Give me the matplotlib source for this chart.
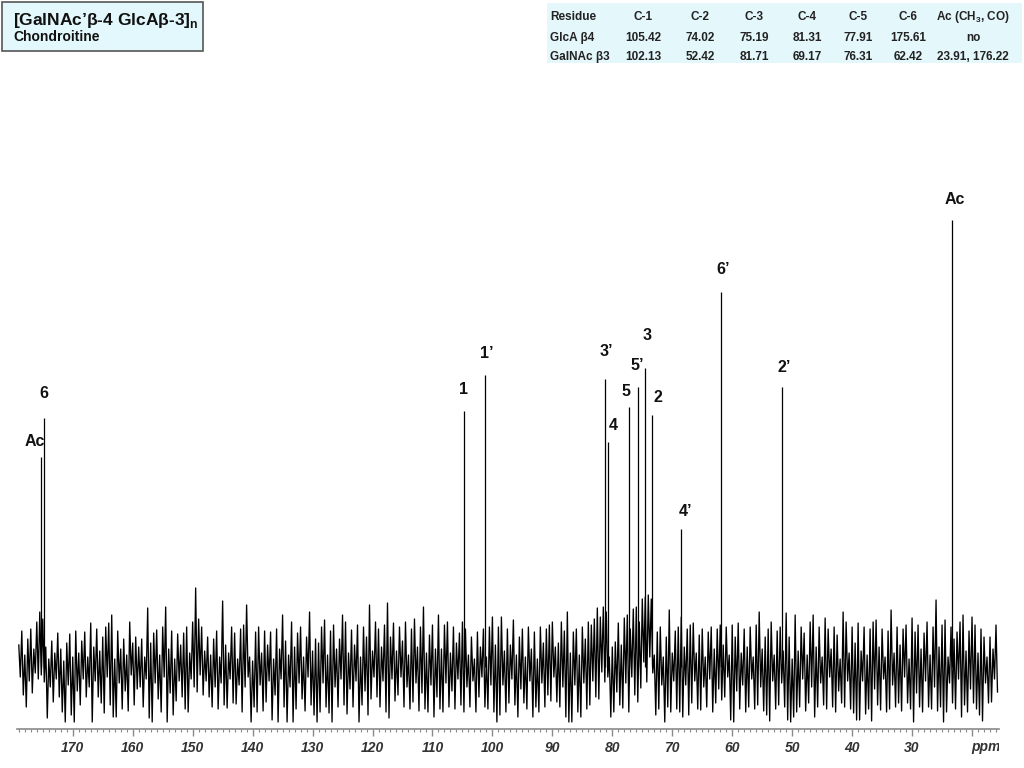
import numpy as np
import matplotlib
matplotlib.use("Agg")
import matplotlib.pyplot as plt
from matplotlib.patches import Rectangle
from matplotlib.ticker import MultipleLocator
from matplotlib.transforms import Bbox, TransformedBbox

plt.rcParams['font.family'] = ['Liberation Sans', 'DejaVu Sans']
plt.rcParams['mathtext.fontset'] = 'custom'
plt.rcParams['mathtext.rm'] = 'Liberation Sans'
plt.rcParams['mathtext.bf'] = 'Liberation Sans:bold'

# --- assigned peaks (ppm as seen on the spectrum, height in baseline units) ---
peak_labels = ["Ac", "6", "1", "1\u2019", "3\u2019", "4", "5", "5\u2019", "3", "2",
               "4\u2019", "6\u2019", "2\u2019", "Ac"]
peak_ppm = [175.3, 174.8, 104.8, 101.3, 81.2, 80.7, 77.3, 75.7, 74.5, 73.3,
            68.5, 61.8, 51.7, 23.3]
peak_height = [210, 249, 256, 292, 288, 225, 260, 280, 299, 252,
               138, 375, 280, 447]

# --- baseline noise: upper / lower excursion every 0.5 ppm, 179 -> 16 ppm ---
noise_hi = [
    22, 36, 12, 28, 38, 18, 45, 55, 48, 20, 8, 26, 14, 34, 18, 6, 24, 33, 10, 36,
    14, 26, 35, 10, 44, 20, 38, 16, 30, 40, 44, 52, 8, 36, 18, 28, 12, 45, 24, 30,
    20, 28, 10, 59, 24, 34, 37, 12, 40, 60, 18, 36, 8, 33, 22, 34, 40, 14, 45, 79,
    48, 40, 16, 30, 12, 28, 36, 10, 66, 22, 14, 40, 34, 8, 38, 42, 62, 10, 6, 35,
    40, 14, 36, 22, 35, 8, 38, 18, 52, 26, 12, 45, 20, 34, 40, 10, 30, 55, 16, 28,
    24, 40, 47, 12, 36, 42, 18, 28, 52, 45, 14, 37, 22, 42, 10, 40, 30, 62, 16, 45,
    38, 20, 42, 64, 30, 44, 16, 40, 26, 45, 12, 38, 48, 20, 40, 60, 14, 32, 42, 18,
    52, 18, 42, 45, 14, 40, 24, 34, 45, 38, 12, 30, 8, 35, 20, 38, 10, 40, 50, 22,
    40, 50, 16, 38, 22, 47, 12, 30, 38, 10, 40, 18, 35, 8, 40, 24, 38, 42, 45, 20,
    24, 45, 36, 55, 14, 35, 38, 12, 40, 28, 45, 42, 48, 59, 50, 60, 55, 10, 20, 25,
    44, 22, 49, 52, 38, 58, 60, 45, 68, 70, 72, 68, 12, 35, 40, 10, 30, 57, 14, 36,
    40, 50, 20, 38, 42, 44, 14, 32, 38, 10, 35, 40, 18, 38, 42, 22, 40, 12, 42, 30,
    44, 14, 38, 20, 40, 10, 42, 55, 18, 30, 38, 45, 12, 36, 40, 16, 54, 30, 8, 52,
    16, 40, 34, 12, 45, 52, 20, 40, 10, 49, 38, 18, 40, 32, 8, 55, 45, 14, 40, 24,
    44, 16, 40, 12, 38, 45, 47, 20, 38, 10, 36, 57, 14, 40, 22, 38, 42, 8, 49, 35,
    42, 18, 34, 45, 12, 40, 67, 20, 42, 47, 10, 40, 28, 35, 45, 52, 16, 36, 50, 42,
    14, 38, 30, 10, 30, 18, 42]
noise_lo = [
    -10, -28, -40, -14, -26, -6, -12, -8, -15, -51, -20, -35, -12, -30, -45, -55, -18, -48, -55, -24,
    -38, -12, -30, -20, -55, -14, -30, -36, -46, -10, -38, -50, -50, -16, -42, -24, -44, -8, -38, -22,
    -20, -40, -12, -51, -55, -16, -32, -45, -10, -55, -26, -48, -34, -14, -30, -42, -45, -12, -20, -25,
    -8, -28, -14, -30, -40, -20, -42, -16, -38, -41, -12, -36, -37, -18, -45, -20, -10, -55, -40, -45,
    -18, -44, -35, -14, -53, -28, -55, -12, -40, -55, -20, -55, -42, -16, -32, -44, -10, -38, -48, -55,
    -45, -16, -40, -46, -55, -20, -40, -12, -38, -47, -22, -40, -14, -55, -38, -24, -48, -32, -10, -30,
    -40, -14, -45, -51, -12, -34, -28, -10, -40, -20, -42, -35, -16, -44, -26, -42, -45, -18, -50, -30,
    -42, -45, -16, -40, -24, -42, -12, -38, -45, -20, -40, -14, -45, -30, -10, -40, -42, -18, -45, -55,
    -48, -18, -45, -36, -12, -38, -50, -22, -36, -42, -14, -50, -40, -45, -16, -40, -28, -34, -10, -35,
    -40, -20, -50, -55, -55, -18, -45, -50, -16, -42, -38, -14, -30, -32, -5, -15, -10, -50, -45, -25,
    -38, -41, -16, -45, -10, -28, -35, -21, 5, -15, 10, -6, -48, -42, -18, -55, -40, -45, -14, -42,
    -45, -50, -18, -48, -36, -14, -42, -43, -20, -40, -12, -45, -36, -22, -33, -30, -10, -53, -55, -24,
    -42, -18, -45, -40, -12, -42, -38, -20, -44, -48, -54, -14, -42, -38, -16, -40, -53, -55, -50, -45,
    -40, -12, -44, -36, -20, -50, -40, -16, -38, -42, -10, -40, -45, -24, -36, -40, -14, -42, -46, -53,
    -53, -14, -47, -42, -54, -22, -38, -43, -12, -45, -42, -18, -40, -36, -44, -10, -36, -42, -55, -26,
    -40, -45, -14, -40, -42, -20, -44, -40, -55, -45, -16, -36, -42, -12, -50, -38, -45, -22, -36, -42,
    -48, -54, -16, -36, -35, -12, -25]

# --- table of chemical shifts ---
table_header = ["Residue", "C-1", "C-2", "C-3", "C-4", "C-5", "C-6", "Ac (CH$_\\mathbf{3}$, CO)"]
table_rows = [
    ["GlcA \u03b24", "105.42", "74.02", "75.19", "81.31", "77.91", "175.61", "no"],
    ["GalNAc \u03b23", "102.13", "52.42", "81.71", "69.17", "76.31", "62.42", "23.91, 176.22"],
]

# label placement relative to peak top (pixels)
label_offset = [(-6, 15), (0, 25), (0, 22), (2, 21), (1, 27), (5, 16), (-3, 16),
                (-1, 22), (2, 33), (5, 18), (4, 18), (2, 22), (2, 19), (3, 21)]

# --- baseline trace (zig-zag between upper and lower excursions) ---
noise_ppm = np.arange(179.0, 15.75, -0.5)
xs = []
ys = []
for p, hi, lo in zip(noise_ppm, noise_hi, noise_lo):
    xs += [p, p - 0.25]
    ys += [hi, lo]

W, H = 1024, 768
fig = plt.figure(figsize=(W / 100, H / 100), dpi=100)
ax = fig.add_axes([17 / W, 39 / H, 982 / W, 529 / H])
ax.plot(xs, ys, color='black', lw=0.95)
# resonances as thin sticks rising out of the baseline
ax.vlines(peak_ppm, 0, peak_height, color='black', lw=0.9)
ax.set_xlim(179.3, 15.5)
ax.set_ylim(-62, 467)

for s in ['left', 'top', 'right']:
    ax.spines[s].set_visible(False)
ax.spines['bottom'].set_color('#8a8a8a')
ax.spines['bottom'].set_linewidth(1.2)
ax.set_yticks([])
major = list(range(20, 171, 10))
ax.set_xticks(major)
ax.set_xticklabels([str(v) if v >= 30 else '' for v in major])
ax.xaxis.set_minor_locator(MultipleLocator(1))
ax.tick_params(axis='x', which='major', length=5, width=1, color='#8a8a8a',
               labelsize=10, labelcolor='#333333', pad=4)
ax.tick_params(axis='x', which='minor', length=2.5, width=0.8, color='#8a8a8a')
for t in ax.get_xticklabels():
    t.set_fontweight('bold')
    t.set_fontstyle('italic')

ppm_txt = ax.text(17.6, -0.034, "ppm", transform=ax.get_xaxis_transform(),
                  ha='center', va='center', fontsize=10, fontweight='bold',
                  fontstyle='italic', color='#333333')
ppm_txt.set_clip_on(True)
ppm_txt.set_clip_box(TransformedBbox(Bbox([[0, 0], [999 / W, 1]]), fig.transFigure))

for lab, p, h, (dx, dy) in zip(peak_labels, peak_ppm, peak_height, label_offset):
    ax.annotate(lab, (p, h), xytext=(dx, dy), textcoords='offset pixels',
                ha='center', va='center', fontsize=11.5, fontweight='bold',
                color='#111111')

# --- title box ---
fig.patches.append(Rectangle((2 / W, 1 - 51 / H), 201 / W, 49 / H,
                             transform=fig.transFigure, facecolor='#e2f8fc',
                             edgecolor='#555555', lw=1.2))
fig.text(13 / W, 1 - 21 / H, "[GalNAc\u2019\u03b2-4 GlcA\u03b2-3]$_\\mathbf{n}$",
         fontsize=12.5, fontweight='bold', va='center', ha='left', color='#111111')
fig.text(13 / W, 1 - 37 / H, "Chondroitine", fontsize=10, fontweight='bold',
         va='center', ha='left', color='#111111')

# --- shift table ---
fig.patches.append(Rectangle((547 / W, 1 - 63 / H), 475 / W, 60 / H,
                             transform=fig.transFigure, facecolor='#e4f7fb',
                             edgecolor='none'))
col_x = [550, 643, 700, 754, 807, 858, 908, 973]
row_y = [17, 38, 57]
for r, row in enumerate([table_header] + table_rows):
    for c, cell in enumerate(row):
        fig.text(col_x[c] / W, 1 - row_y[r] / H, cell, fontsize=8.5,
                 fontweight='bold', va='center', ha='left' if c == 0 else 'center',
                 color='#222222')

fig.savefig("out.png", dpi=100)
